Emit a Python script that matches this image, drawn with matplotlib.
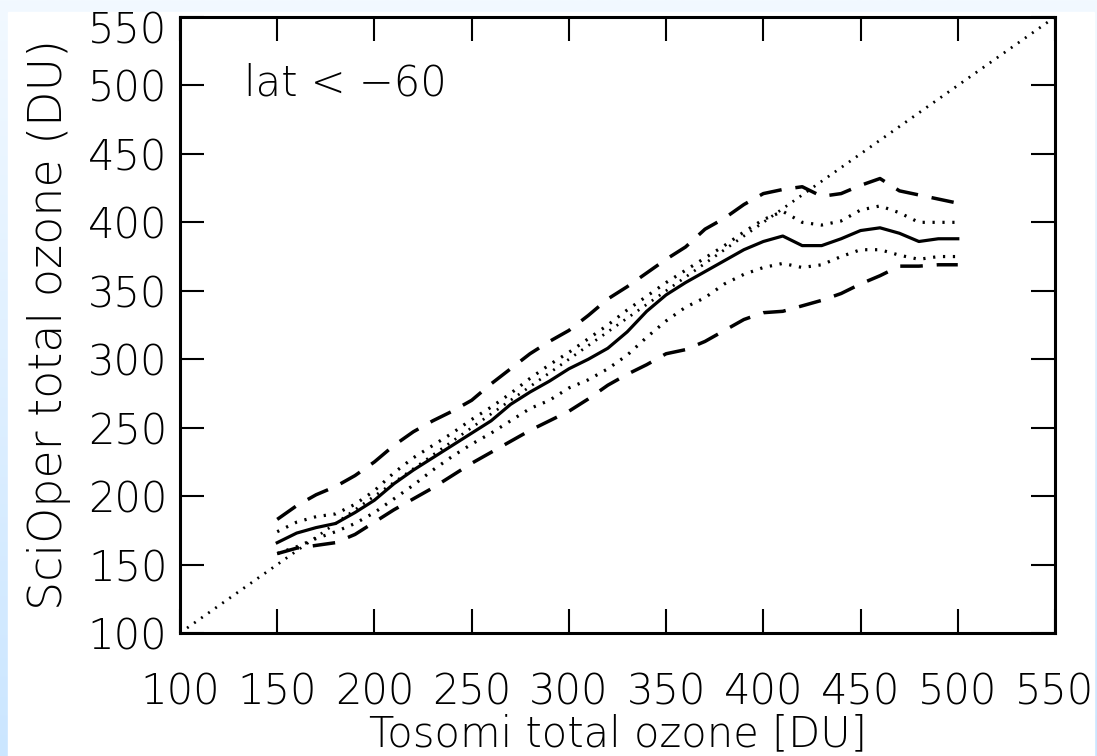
import numpy as np
import matplotlib
matplotlib.use("Agg")
import matplotlib.pyplot as plt
import matplotlib.transforms as mtrans
from matplotlib.patches import Rectangle

# Tosomi bins (DU)
tosomi = list(range(150, 510, 10))

# SciOper statistics per bin
median = [166, 173, 177, 180, 188, 197, 209, 219, 228, 237, 246, 255,
          267, 276, 284, 293, 300, 308, 320, 335, 347, 356, 364, 372,
          380, 386, 390, 383, 383, 388, 394, 396, 392, 386, 388, 388]
upper_dot = [174, 181, 185, 187, 194, 204, 217, 228, 237, 246, 256, 265,
             275, 286, 296, 305, 315, 325, 336, 346, 356, 365, 374, 383,
             393, 402, 408, 400, 398, 401, 409, 412, 407, 400, 400, 400]
lower_dot = [158, 163, 169, 174, 180, 188, 198, 208, 219, 229, 238, 246,
             255, 264, 270, 279, 285, 293, 303, 316, 328, 338, 345, 355,
             362, 367, 370, 367, 369, 375, 380, 380, 376, 373, 375, 375]
upper_dash = [183, 193, 201, 207, 215, 225, 237, 247, 255, 262, 270, 282,
              293, 304, 313, 321, 332, 344, 353, 363, 373, 382, 395, 403,
              413, 421, 424, 426, 419, 421, 427, 432, 423, 420, 417, 414]
lower_dash = [158, 162, 164, 166, 172, 181, 190, 198, 206, 215, 224, 232,
              240, 248, 255, 262, 271, 281, 289, 296, 304, 307, 313, 321,
              329, 334, 335, 339, 343, 348, 355, 361, 368, 368, 369, 369]

ticks = [100, 150, 200, 250, 300, 350, 400, 450, 500, 550]
one_to_one = [100, 550]

plt.rcParams['font.family'] = ['DejaVu Sans']
plt.rcParams['font.weight'] = 200
plt.rcParams['axes.labelweight'] = 200

fig = plt.figure(figsize=(10.97, 7.56), dpi=100)

# light blue frame behind the white panel
bg = fig.add_axes([0, 0, 1, 1], zorder=-10)
grad = np.linspace(0, 1, 256).reshape(-1, 1)
bg.imshow(grad, aspect='auto', extent=[0, 1, 0, 1], origin='upper',
          cmap=matplotlib.colors.LinearSegmentedColormap.from_list(
              'bl', ['#f2f9ff', '#cbe6ff']))
bg.add_patch(Rectangle((8 / 1097, 0), (1094 - 8) / 1097, 1 - 12 / 756,
                       transform=bg.transAxes, color='white'))
bg.set_axis_off()

ax = fig.add_axes([180 / 1097, 1 - 633 / 756, 875 / 1097, 616 / 756])
ax.set_facecolor('none')

dot = (0, (0.7, 2.4))
dash = (0, (6.5, 4))
ax.plot(one_to_one, one_to_one, color='black', lw=2.0, linestyle=dot)
ax.plot(tosomi, median, color='black', lw=2.3)
ax.plot(tosomi, upper_dot, color='black', lw=2.3, linestyle=dot)
ax.plot(tosomi, lower_dot, color='black', lw=2.3, linestyle=dot)
ax.plot(tosomi, upper_dash, color='black', lw=2.5, linestyle=dash)
ax.plot(tosomi, lower_dash, color='black', lw=2.5, linestyle=dash)

ax.set_xlim(100, 550)
ax.set_ylim(100, 550)
ax.set_xticks(ticks)
ax.set_yticks(ticks)
ax.tick_params(direction='in', length=17, width=1.5, top=True, right=True,
               labelsize=30, pad=9)
ax.tick_params(axis='x', pad=28)
for s in ax.spines.values():
    s.set_linewidth(2.2)

# top label would run off the figure, push it down a little
top_lab = ax.get_yticklabels()[-1]
top_lab.set_transform(top_lab.get_transform() +
                      mtrans.ScaledTranslation(0, -7 / 72, fig.dpi_scale_trans))

ax.set_xlabel('Tosomi total ozone [DU]', fontsize=30, labelpad=0)
ax.set_ylabel('SciOper total ozone (DU)', fontsize=33, labelpad=12)
ax.text(133, 502, 'lat < \u221260', fontsize=30, va='center', ha='left')

fig.savefig('out.png', dpi=100)
